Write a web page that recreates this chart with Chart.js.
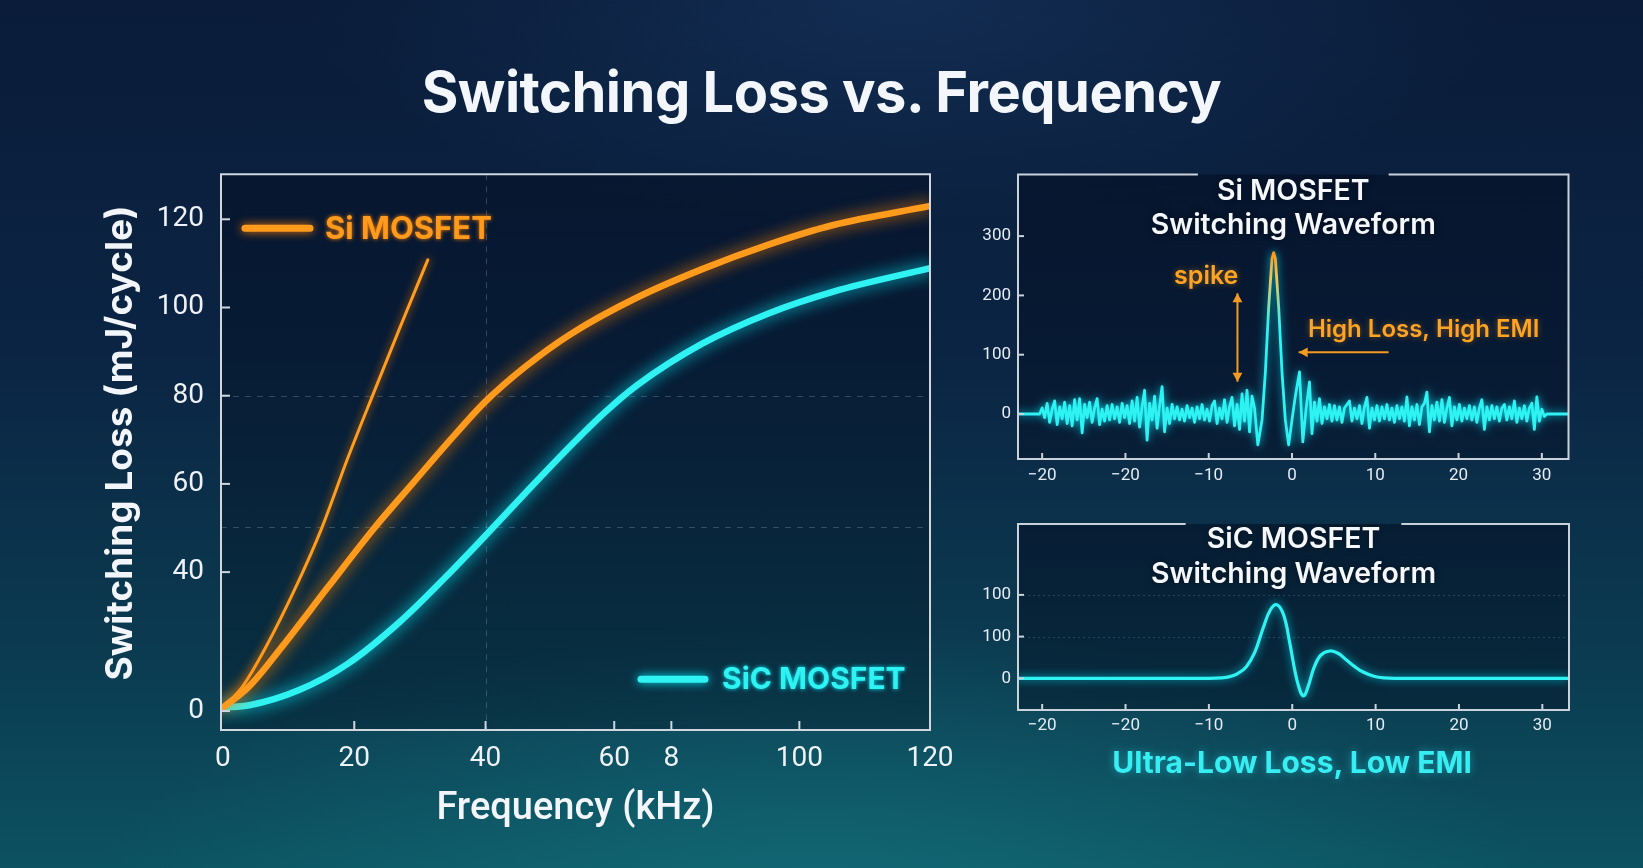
<!DOCTYPE html>
<html>
<head>
<meta charset="utf-8">
<script src="https://cdn.jsdelivr.net/npm/chart.js@4.4.0/dist/chart.umd.min.js"></script>
<style>
html,body{margin:0;padding:0;width:1643px;height:868px;overflow:hidden;}
body{
  position:relative;
  font-family:Inter, Roboto, "Noto Sans", sans-serif;
  background:
    radial-gradient(ellipse 1000px 420px at 50% 108%, rgba(24,128,138,0.55), rgba(24,128,138,0) 75%),
    radial-gradient(ellipse 800px 300px at 55% 0%, rgba(28,64,112,0.45), rgba(28,64,112,0) 75%),
    linear-gradient(180deg, #0a1c39 0%, #0b2443 40%, #0b3d52 78%, #0c5260 100%);
}
#title{position:absolute;left:0;top:60px;width:1643px;text-align:center;color:#f3f6fa;
  font:700 56px/64px Inter, sans-serif;letter-spacing:-0.5px;}
.box{position:absolute;}
#bottomText{position:absolute;left:960px;top:742px;width:664px;text-align:center;color:#37eef2;
  font:700 30px/40px Inter, sans-serif;text-shadow:0 0 8px rgba(40,230,240,0.5);}
</style>
</head>
<body>
<div id="title">Switching Loss vs. Frequency</div>
<canvas id="mainChart" class="box" width="960" height="700" style="left:0;top:150px;width:960px;height:700px"></canvas>
<canvas id="siChart" class="box" width="683" height="350" style="left:960px;top:150px;width:683px;height:350px"></canvas>
<canvas id="sicChart" class="box" width="683" height="240" style="left:960px;top:500px;width:683px;height:240px"></canvas>
<div id="bottomText">Ultra-Low Loss, Low EMI</div>
<script>
// ---------------- data ----------------
// Main chart (x and y in axis position units)
const FREQ_TICK_POS = [0, 20, 40, 59.6, 68.3, 87.8, 107.7];
const FREQ_TICK_LABELS = ['0', '20', '40', '60', '8', '100', '120'];
const LOSS_TICK_POS = [8.5, 40, 60, 80, 100, 120];
const LOSS_TICK_LABELS = ['0', '40', '60', '80', '100', '120'];

const SI_FREQ = [0, 4, 9, 16, 23, 29, 35, 40, 46, 53, 63, 73, 83, 93, 107.7];
const SI_LOSS = [9.3, 14.1, 23.1, 36.6, 49.9, 60.3, 70.6, 78.7, 86.5, 94.0, 102.2, 108.7, 114.2, 118.7, 123.0];

const SI_THIN_FREQ = [0, 3, 6.5, 11.5, 15, 19, 23, 27, 31.2];
const SI_THIN_LOSS = [9.3, 14.1, 22.9, 37.9, 49.8, 65.8, 80.8, 95.6, 110.8];

const SIC_FREQ = [0, 4, 11.5, 19, 27, 34, 40, 47, 53, 58, 63, 73, 83, 93, 107.7];
const SIC_LOSS = [9.3, 9.8, 13.2, 19.2, 28.8, 39.0, 48.3, 59.4, 68.7, 76.0, 82.3, 91.8, 98.6, 103.6, 108.9];

const GRID_FREQ = [40];
const GRID_LOSS = [50.3, 80];

// Waveform panels
const WAVE_TICK_POS = [-30, -20, -10, 0, 10, 20, 30];
const WAVE_TICK_LABELS = ['\u221220', '\u221220', '\u221210', '0', '10', '20', '30'];
const SI_WAVE_TICK_POS = [0, 100, 200, 300];
const SI_WAVE_TICK_LABELS = ['0', '100', '200', '300'];
const SIC_WAVE_TICK_POS = [0, 100, 200];
const SIC_WAVE_TICK_LABELS = ['0', '100', '100'];

const SI_WAVE_T = [-33.2, -30.6, -30.3, -30.0, -29.7, -29.4, -29.1, -28.8, -28.5, -28.2, -27.9, -27.6, -27.3, -27.0, -26.7, -26.4, -26.1, -25.8, -25.5, -25.2, -24.9, -24.6, -24.3, -24.0, -23.7, -23.4, -23.1, -22.8, -22.5, -22.2, -21.9, -21.6, -21.3, -21.0, -20.7, -20.4, -20.1, -19.8, -19.5, -19.2, -18.9, -18.6, -18.3, -18.0, -17.7, -17.4, -17.1, -16.8, -16.5, -16.2, -15.9, -15.6, -15.3, -15.0, -14.7, -14.4, -14.1, -13.8, -13.5, -13.2, -12.9, -12.6, -12.3, -12.0, -11.7, -11.4, -11.1, -10.8, -10.5, -10.2, -9.9, -9.6, -9.3, -9.0, -8.7, -8.4, -8.1, -7.8, -7.5, -7.2, -6.9, -6.6, -6.3, -6.0, -5.7, -5.4, -5.1, -4.8, -4.5, -4.1, -3.6, -3.2, -2.8, -2.4, -2.2, -2.0, -1.6, -1.2, -0.8, -0.4, 0.0, 0.4, 0.9, 1.3, 1.7, 2.1, 2.4, 2.7, 3.0, 3.3, 3.6, 3.9, 4.2, 4.5, 4.8, 5.1, 5.4, 5.7, 6.0, 6.3, 6.6, 6.9, 7.2, 7.5, 7.8, 8.1, 8.4, 8.7, 9.0, 9.3, 9.6, 9.9, 10.2, 10.5, 10.8, 11.1, 11.4, 11.7, 12.0, 12.3, 12.6, 12.9, 13.2, 13.5, 13.8, 14.1, 14.4, 14.7, 15.0, 15.3, 15.6, 15.9, 16.2, 16.5, 16.8, 17.1, 17.4, 17.7, 18.0, 18.3, 18.6, 18.9, 19.2, 19.5, 19.8, 20.1, 20.4, 20.7, 21.0, 21.3, 21.6, 21.9, 22.2, 22.5, 22.8, 23.1, 23.4, 23.7, 24.0, 24.3, 24.6, 24.9, 25.2, 25.5, 25.8, 26.1, 26.4, 26.7, 27.0, 27.3, 27.6, 27.9, 28.2, 28.5, 28.8, 29.1, 29.4, 29.7, 30.0, 30.3, 30.6, 33.2];
const SI_WAVE_V = [0, 0, 0, 10, -6, 18, -14, 8, 22, -18, 12, -8, 20, -16, 14, -20, 24, -10, 26, -32, 16, -6, 20, -14, 10, 26, -18, 8, -12, 14, -10, 16, -8, 12, -14, 18, -6, 14, -16, 22, -12, 28, -22, 12, 40, -44, 18, -10, 30, -24, 14, 46, -30, 10, -16, 16, -8, 12, -10, 8, -12, 14, -6, 10, -14, 12, -8, 16, -10, 8, -12, 14, 22, -16, 10, -8, 24, -14, 12, 28, -20, 16, -26, 34, -12, 40, -30, 30, 10, -52, -10, 70, 180, 262, 272, 262, 180, 70, -10, -52, -10, 30, 71, -47, 10, 54, -33, 20, -12, 26, -16, 12, -8, 16, -12, 14, -10, 12, -14, 10, 16, 22, -12, 10, -8, 14, -16, 12, 28, -24, 10, -10, 14, -12, 12, -8, 16, -10, 10, -14, 14, -8, 12, -12, 29, -20, 12, -10, 16, -18, 12, 18, 37, -30, 14, -10, 20, -12, 24, -14, 10, 28, -20, 12, -10, 16, -12, 10, -8, 14, -10, 12, -14, 10, 24, -26, 12, -10, 14, -8, 12, -12, 10, 16, -10, 12, -8, 22, -14, 10, -8, 14, -12, 10, 18, -26, 29, -12, 8, -4, 0, 0];

const SIC_WAVE_T = [-33.2, -10, -8.5, -7.5, -6.5, -5.5, -4.5, -3.5, -2.6, -1.8, -1.0, -0.3, 0.4, 1.0, 1.4, 1.9, 2.6, 3.4, 4.5, 5.5, 6.5, 7.5, 8.5, 9.8, 11, 12.5, 33.2];
const SIC_WAVE_V = [0, 0, 1, 4, 12, 28, 62, 120, 165, 176, 150, 85, 10, -33, -42, -20, 25, 55, 65.5, 60, 44, 28, 15, 5, 1, 0, 0];

// ---------------- helpers ----------------
const ORANGE = '#ff9a1c';
const CYAN = '#2ff3f3';
const pts = (xs, ys) => xs.map((x, i) => ({x: x, y: ys[i]}));
const labelFor = (pos, labels) => (v) => { const i = pos.findIndex(p => Math.abs(p - v) < 1e-6); return i >= 0 ? labels[i] : ''; };
const fixedTicks = (pos) => (scale) => { scale.ticks = pos.map(v => ({value: v})); };
const fitY = (w) => (s) => { s.width = w; s.paddingTop = 0; s.paddingBottom = 0; };
const fitX = (h) => (s) => { s.height = h; s.paddingLeft = 0; s.paddingRight = 0; };

function line(ctx, x1, y1, x2, y2) { ctx.beginPath(); ctx.moveTo(x1, y1); ctx.lineTo(x2, y2); ctx.stroke(); }
function arrowHead(ctx, x, y, dx, dy, size) {
  const len = Math.hypot(dx, dy); const ux = dx / len, uy = dy / len;
  ctx.beginPath();
  ctx.moveTo(x, y);
  ctx.lineTo(x - ux * size - uy * size * 0.55, y - uy * size + ux * size * 0.55);
  ctx.lineTo(x - ux * size + uy * size * 0.55, y - uy * size - ux * size * 0.55);
  ctx.closePath(); ctx.fill();
}

const glowPlugin = {
  id: 'glow',
  beforeDatasetDraw(chart, args) {
    const ds = chart.data.datasets[args.index];
    chart.ctx.save();
    if (ds.glowColor) { chart.ctx.shadowColor = ds.glowColor; chart.ctx.shadowBlur = ds.glowBlur || 12; }
  },
  afterDatasetDraw(chart) { chart.ctx.restore(); }
};

const decoPlugin = {
  id: 'deco',
  beforeDatasetsDraw(chart, args, o) {
    const {ctx, chartArea: a, scales} = chart;
    ctx.save();
    if (o.fill) {
      const g = ctx.createLinearGradient(0, a.top, 0, a.bottom);
      g.addColorStop(0, o.fill[0]); g.addColorStop(1, o.fill[1]);
      ctx.fillStyle = g; ctx.fillRect(a.left, a.top, a.right - a.left, a.bottom - a.top);
    }
    ctx.lineWidth = 1; ctx.strokeStyle = o.gridColor || 'rgba(150,170,200,0.3)';
    ctx.setLineDash(o.gridDash || [5, 5]);
    (o.gridX || []).forEach(v => { const x = Math.round(scales.x.getPixelForValue(v)) + 0.5; line(ctx, x, a.top, x, a.bottom); });
    (o.gridY || []).forEach(v => { const y = Math.round(scales.y.getPixelForValue(v)) + 0.5; line(ctx, a.left, y, a.right, y); });
    ctx.restore();
  },
  afterDatasetsDraw(chart, args, o) {
    const {ctx, chartArea: a, scales} = chart;
    ctx.save();
    ctx.setLineDash([]);
    // frame
    ctx.strokeStyle = o.frameColor || '#cdd5de';
    ctx.lineWidth = o.frameWidth || 2;
    const cx = (a.left + a.right) / 2;
    let gap = 0;
    if (o.titleLines) {
      ctx.font = o.titleFont;
      gap = ctx.measureText(o.titleLines[0]).width / 2 + (o.titleGapMargin || 20);
    }
    ctx.beginPath();
    if (gap) {
      ctx.moveTo(cx - gap, a.top); ctx.lineTo(a.left, a.top); ctx.lineTo(a.left, a.bottom);
      ctx.lineTo(a.right, a.bottom); ctx.lineTo(a.right, a.top); ctx.lineTo(cx + gap, a.top);
    } else {
      ctx.rect(a.left, a.top, a.right - a.left, a.bottom - a.top);
    }
    ctx.stroke();
    // inward tick marks
    ctx.lineWidth = 2;
    const tl = o.tickLen || 8;
    scales.x.ticks.forEach((t, i) => {
      const x = scales.x.getPixelForTick(i);
      if (x > a.left + 3 && x < a.right - 3) line(ctx, x, a.bottom, x, a.bottom - tl);
    });
    scales.y.ticks.forEach((t, i) => {
      const y = scales.y.getPixelForTick(i);
      line(ctx, a.left, y, a.left + tl, y);
    });
    // rotated y title
    if (o.yTitle) {
      ctx.save();
      ctx.translate(o.yTitle.x, o.yTitle.y);
      ctx.rotate(-Math.PI / 2);
      ctx.fillStyle = o.yTitle.color; ctx.font = o.yTitle.font;
      ctx.textAlign = 'center'; ctx.textBaseline = 'middle';
      ctx.fillText(o.yTitle.text, 0, 0);
      ctx.restore();
    }
    // titles
    if (o.titleLines) {
      ctx.fillStyle = '#f4f7fb';
      ctx.textAlign = 'center'; ctx.textBaseline = 'middle';
      ctx.font = o.titleFont;
      ctx.shadowColor = 'rgba(0,0,0,0.5)'; ctx.shadowBlur = 6;
      o.titleLines.forEach((t, i) => ctx.fillText(t, cx, a.top + o.titleOffsets[i]));
      ctx.shadowBlur = 0;
    }
    // legend
    (o.legend || []).forEach(item => {
      const ds = chart.data.datasets[item.ds];
      const y = a.top + item.dy;
      ctx.save();
      ctx.shadowColor = ds.glowColor; ctx.shadowBlur = 10;
      ctx.strokeStyle = ds.borderColor; ctx.lineWidth = 7; ctx.lineCap = 'round';
      line(ctx, a.left + item.x0, y, a.left + item.x1, y);
      ctx.shadowBlur = 4;
      ctx.fillStyle = ds.borderColor; ctx.font = item.font;
      ctx.textAlign = 'left'; ctx.textBaseline = 'middle';
      ctx.fillText(ds.label, a.left + item.tx, y + 1);
      ctx.restore();
    });
    // annotations
    (o.notes || []).forEach(n => {
      ctx.save();
      ctx.fillStyle = n.color; ctx.strokeStyle = n.color;
      if (n.kind === 'text') {
        ctx.font = n.font; ctx.textAlign = 'center'; ctx.textBaseline = 'middle';
        ctx.shadowColor = 'rgba(255,150,30,0.45)'; ctx.shadowBlur = 6;
        ctx.fillText(n.text, scales.x.getPixelForValue(n.t), scales.y.getPixelForValue(n.v));
      } else if (n.kind === 'arrow') {
        const x1 = scales.x.getPixelForValue(n.t1), y1 = scales.y.getPixelForValue(n.v1);
        const x2 = scales.x.getPixelForValue(n.t2), y2 = scales.y.getPixelForValue(n.v2);
        ctx.lineWidth = 2;
        line(ctx, x1, y1, x2, y2);
        arrowHead(ctx, x2, y2, x2 - x1, y2 - y1, 9);
        if (n.both) arrowHead(ctx, x1, y1, x1 - x2, y1 - y2, 9);
      }
      ctx.restore();
    });
    ctx.restore();
  }
};

Chart.register(glowPlugin, decoPlugin);
Chart.defaults.devicePixelRatio = 1;
Chart.defaults.animation = false;
Chart.defaults.font.family = 'Roboto, "Noto Sans", sans-serif';

// ---------------- main chart ----------------
new Chart(document.getElementById('mainChart'), {
  type: 'line',
  data: {
    datasets: [
      {label: 'Si MOSFET', data: pts(SI_FREQ, SI_LOSS), borderColor: ORANGE, glowColor: 'rgba(255,130,0,0.95)', glowBlur: 16,
       borderWidth: 6.5, pointRadius: 0, cubicInterpolationMode: 'monotone', borderCapStyle: 'round'},
      {label: 'Si MOSFET (thin)', data: pts(SI_THIN_FREQ, SI_THIN_LOSS), borderColor: '#ff9d1e', glowColor: 'rgba(255,130,0,0.8)', glowBlur: 8,
       borderWidth: 3, pointRadius: 0, cubicInterpolationMode: 'monotone', borderCapStyle: 'round'},
      {label: 'SiC MOSFET', data: pts(SIC_FREQ, SIC_LOSS), borderColor: CYAN, glowColor: 'rgba(0,240,255,0.95)', glowBlur: 16,
       borderWidth: 6.5, pointRadius: 0, cubicInterpolationMode: 'monotone', borderCapStyle: 'round'}
    ]
  },
  options: {
    responsive: false,
    layout: {padding: {top: 24.3, right: 30, bottom: 0, left: 0}},
    plugins: {
      legend: {display: false}, tooltip: {enabled: false},
      deco: {
        fill: ['rgba(4,14,34,0.5)', 'rgba(4,26,40,0.38)'],
        gridX: GRID_FREQ, gridY: GRID_LOSS, gridColor: 'rgba(140,165,195,0.32)', gridDash: [6, 6],
        frameColor: '#cfd6de', frameWidth: 2, tickLen: 9,
        yTitle: {text: 'Switching Loss (mJ/cycle)', x: 121, y: 293, color: '#f2f5f9', font: '700 37px Inter, sans-serif'},
        legend: [
          {ds: 0, x0: 24, x1: 89, dy: 54, tx: 104, font: '700 31px Inter, sans-serif'},
          {ds: 2, x0: 420, x1: 484, dy: 505, tx: 501, font: '700 30px Inter, sans-serif'}
        ]
      }
    },
    scales: {
      x: {
        type: 'linear', min: -0.3, max: 107.7,
        afterFit: fitX(120),
        afterBuildTicks: fixedTicks(FREQ_TICK_POS),
        grid: {display: false, drawTicks: false}, border: {display: false},
        ticks: {padding: 12, color: '#eef2f7', font: {size: 28}, maxRotation: 0, autoSkip: false,
                callback: labelFor(FREQ_TICK_POS, FREQ_TICK_LABELS)},
        title: {display: true, text: 'Frequency (kHz)', color: '#f2f5f9',
                font: {family: 'Roboto, sans-serif', size: 38, weight: '500'}, padding: {top: 0, bottom: 18}}
      },
      y: {
        type: 'linear', min: 4.2, max: 130.2,
        afterFit: fitY(221),
        afterBuildTicks: fixedTicks(LOSS_TICK_POS),
        grid: {display: false, drawTicks: false}, border: {display: false},
        ticks: {padding: 17, color: '#eef2f7', font: {size: 28}, autoSkip: false,
                callback: labelFor(LOSS_TICK_POS, LOSS_TICK_LABELS)}
      }
    }
  }
});

// ---------------- Si waveform ----------------
new Chart(document.getElementById('siChart'), {
  type: 'line',
  data: {
    datasets: [{
      label: 'Si MOSFET waveform', data: pts(SI_WAVE_T, SI_WAVE_V),
      borderColor: (c) => {
        const ch = c.chart; if (!ch.chartArea) return CYAN;
        const y = ch.scales.y;
        const g = ch.ctx.createLinearGradient(0, y.getPixelForValue(275), 0, y.getPixelForValue(150));
        g.addColorStop(0, '#ff9418'); g.addColorStop(0.35, '#ffc24a'); g.addColorStop(1, CYAN);
        return g;
      },
      glowColor: 'rgba(0,235,255,0.85)', glowBlur: 8,
      borderWidth: 2.8, pointRadius: 0, tension: 0, borderJoinStyle: 'round'
    }]
  },
  options: {
    responsive: false,
    layout: {padding: {top: 24.5, right: 74.5, bottom: 0, left: 0}},
    plugins: {
      legend: {display: false}, tooltip: {enabled: false},
      deco: {
        fill: ['rgba(4,14,34,0.55)', 'rgba(4,18,38,0.5)'],
        frameColor: '#c9d1db', frameWidth: 2, tickLen: 6,
        titleLines: ['Si MOSFET', 'Switching Waveform'], titleOffsets: [17, 51],
        titleFont: '600 28.5px Inter, sans-serif', titleGapMargin: 19,
        notes: [
          {kind: 'text', text: 'spike', t: -10.3, v: 231.5, color: '#ffa322', font: '600 25px Inter, sans-serif'},
          {kind: 'arrow', t1: -6.55, v1: 203.5, t2: -6.55, v2: 54.5, both: true, color: '#f59a1e'},
          {kind: 'text', text: 'High Loss, High EMI', t: 15.8, v: 141.6, color: '#ffa322', font: '600 24px Inter, sans-serif'},
          {kind: 'arrow', t1: 11.6, v1: 104, t2: 0.8, v2: 104, both: false, color: '#f59a1e'}
        ]
      }
    },
    scales: {
      x: {
        type: 'linear', min: -32.9, max: 33.2,
        afterFit: fitX(41),
        afterBuildTicks: fixedTicks(WAVE_TICK_POS),
        grid: {display: false, drawTicks: false}, border: {display: false},
        ticks: {padding: 7, color: '#e6ecf3', font: {size: 17}, maxRotation: 0, autoSkip: false,
                callback: labelFor(WAVE_TICK_POS, WAVE_TICK_LABELS)}
      },
      y: {
        type: 'linear', min: -75.9, max: 403.9,
        afterFit: fitY(58),
        afterBuildTicks: fixedTicks(SI_WAVE_TICK_POS),
        grid: {display: false, drawTicks: false}, border: {display: false},
        ticks: {padding: 7, color: '#e6ecf3', font: {size: 17}, autoSkip: false,
                callback: labelFor(SI_WAVE_TICK_POS, SI_WAVE_TICK_LABELS)}
      }
    }
  }
});

// ---------------- SiC waveform ----------------
new Chart(document.getElementById('sicChart'), {
  type: 'line',
  data: {
    datasets: [{
      label: 'SiC MOSFET waveform', data: pts(SIC_WAVE_T, SIC_WAVE_V),
      borderColor: CYAN, glowColor: 'rgba(0,235,255,0.8)', glowBlur: 8,
      borderWidth: 3.2, pointRadius: 0, tension: 0.4
    }]
  },
  options: {
    responsive: false,
    layout: {padding: {top: 24, right: 74, bottom: 0, left: 0}},
    plugins: {
      legend: {display: false}, tooltip: {enabled: false},
      deco: {
        fill: ['rgba(4,14,34,0.55)', 'rgba(4,22,40,0.5)'],
        gridY: [100, 200], gridColor: 'rgba(140,165,195,0.25)', gridDash: [2, 3],
        frameColor: '#c9d1db', frameWidth: 2, tickLen: 6,
        titleLines: ['SiC MOSFET', 'Switching Waveform'], titleOffsets: [15, 50],
        titleFont: '600 28.5px Inter, sans-serif', titleGapMargin: 21
      }
    },
    scales: {
      x: {
        type: 'linear', min: -32.9, max: 33.2,
        afterFit: fitX(30),
        afterBuildTicks: fixedTicks(WAVE_TICK_POS),
        grid: {display: false, drawTicks: false}, border: {display: false},
        ticks: {padding: 6, color: '#e6ecf3', font: {size: 17}, maxRotation: 0, autoSkip: false,
                callback: labelFor(WAVE_TICK_POS, WAVE_TICK_LABELS)}
      },
      y: {
        type: 'linear', min: -76, max: 370,
        afterFit: fitY(58),
        afterBuildTicks: fixedTicks(SIC_WAVE_TICK_POS),
        grid: {display: false, drawTicks: false}, border: {display: false},
        ticks: {padding: 7, color: '#e6ecf3', font: {size: 17}, autoSkip: false,
                callback: labelFor(SIC_WAVE_TICK_POS, SIC_WAVE_TICK_LABELS)}
      }
    }
  }
});
</script>
</body>
</html>
